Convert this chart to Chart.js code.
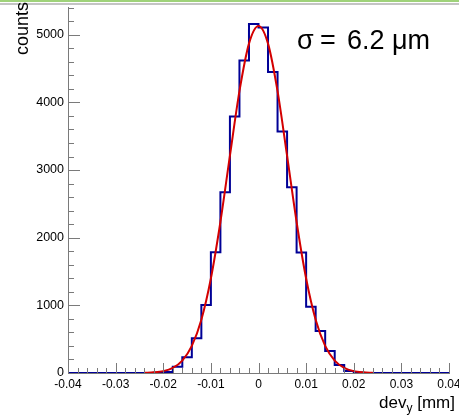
<!DOCTYPE html>
<html><head><meta charset="utf-8">
<script src="https://cdn.jsdelivr.net/npm/chart.js@4.4.0/dist/chart.umd.min.js"></script>
<style>html,body{margin:0;padding:0;background:#fff;overflow:hidden}#wrap{width:459px;height:417px;position:relative}</style>
</head><body><div id="wrap"><canvas id="c" width="459" height="417"></canvas></div>
<script>
// ---- data ----
const binEdges = [-0.040,-0.038,-0.036,-0.034,-0.032,-0.030,-0.028,-0.026,-0.024,-0.022,
  -0.020,-0.018,-0.016,-0.014,-0.012,-0.010,-0.008,-0.006,-0.004,-0.002,
  0.000,0.002,0.004,0.006,0.008,0.010,0.012,0.014,0.016,0.018,
  0.020,0.022,0.024,0.026,0.028,0.030,0.032,0.034,0.036,0.038,0.040];
const counts = [0,0,0,0,0,0,0,0,0,2,
  15,93,232,513,1006,1785,2673,3790,4620,5158,
  5108,4448,3570,2747,1780,981,621,325,118,30,
  6,0,0,0,0,0,0,0,0,0];
const fitX = [-0.024,-0.022,-0.020,-0.018,-0.016,-0.014,-0.012,-0.010,-0.008,-0.006,-0.004,-0.002,
  0.000,0.002,0.004,0.006,0.008,0.010,0.012,0.014,0.016,0.018,0.020,0.022,0.024];
const fitY = [3,10,28,76,184,401,788,1397,2232,3212,4166,4869,
  5130,4869,4166,3212,2232,1397,788,401,184,76,28,10,3];
const xTickVals = [-0.04,-0.03,-0.02,-0.01,0,0.01,0.02,0.03,0.04];
const xTickLabels = ['-0.04','-0.03','-0.02','-0.01','0','0.01','0.02','0.03','0.04'];
const yTickVals = [0,1000,2000,3000,4000,5000];
const yTickLabels = ['0','1000','2000','3000','4000','5000'];
const sigmaText = '6.2 \u03bcm';

// horizontal segment at counts[i] from binEdges[i] to binEdges[i+1]
const histPts = counts.map((v,i)=>({x:binEdges[i], y:v}));
histPts.push({x:binEdges[binEdges.length-1], y:counts[counts.length-1]});
const fitPts = fitX.map((x,i)=>({x:x, y:fitY[i]}));

const FONT = "'Liberation Sans', Arial, Helvetica, sans-serif";
const AXC = '#7a7a7a';

const decor = {
  id:'decor',
  beforeDraw(chart){
    const ctx = chart.ctx;
    ctx.save();
    ctx.fillStyle = '#9fd27a'; ctx.fillRect(0,0,459,2);
    ctx.fillStyle = '#c4c4c4'; ctx.fillRect(0,3,459,2);
    ctx.restore();
  },
  afterDraw(chart){
    const ctx = chart.ctx, xs = chart.scales.x, ys = chart.scales.y, a = chart.chartArea;
    ctx.save();
    ctx.strokeStyle = AXC; ctx.lineWidth = 1;
    ctx.beginPath();
    for (let k=0;k<=27;k++){ const v=k*200; if (v>ys.max) break;
      const y=Math.round(ys.getPixelForValue(v))+0.5; const L=(k%5===0)?12:6;
      ctx.moveTo(a.left, y); ctx.lineTo(a.left+L, y); }
    for (let k=-20;k<=20;k++){ const v=k*0.002;
      const x=Math.round(xs.getPixelForValue(v))+0.5; const L=(k%5===0)?10:5;
      ctx.moveTo(x, a.bottom); ctx.lineTo(x, a.bottom-L); }
    ctx.stroke();
    // axis titles
    ctx.fillStyle = '#000';
    ctx.save();
    ctx.translate(23, 2); ctx.rotate(-Math.PI/2);
    ctx.font = '18px '+FONT; ctx.textAlign='right'; ctx.textBaseline='middle';
    ctx.fillText('counts', 0, 0);
    ctx.restore();
    ctx.textBaseline='alphabetic'; ctx.textAlign='left';
    ctx.font = '17px '+FONT;
    const w1 = ctx.measureText('dev').width, w3 = ctx.measureText(' [mm]').width;
    ctx.font = '12px '+FONT; const w2 = ctx.measureText('y').width;
    let x0 = 455 - (w1+w2+w3), base = 408;
    ctx.font = '17px '+FONT; ctx.fillText('dev', x0, base);
    ctx.font = '12px '+FONT; ctx.fillText('y', x0+w1, base+4);
    ctx.font = '17px '+FONT; ctx.fillText(' [mm]', x0+w1+w2, base);
    // sigma label
    ctx.font = '27px '+FONT;
    ctx.fillText('\u03c3', 297, 49);
    ctx.fillText('=', 320, 49);
    ctx.fillText(sigmaText, 347, 49);
    ctx.restore();
  }
};

new Chart(document.getElementById('c'), {
  type:'line',
  data:{datasets:[
    {data:histPts, stepped:'before', borderColor:'#000096', borderWidth:2, pointRadius:0, fill:false, order:2},
    {data:fitPts, borderColor:'#d40000', borderWidth:2, pointRadius:0, fill:false, tension:0.4, cubicInterpolationMode:'monotone', order:1}
  ]},
  options:{
    responsive:false, animation:false, devicePixelRatio:1,
    layout:{padding:{top:7,right:10,left:0,bottom:0}},
    plugins:{legend:{display:false}, tooltip:{enabled:false}},
    scales:{
      x:{type:'linear', min:-0.04, max:0.04,
        afterBuildTicks(s){ s.ticks = xTickVals.map(v=>({value:v})); },
        ticks:{autoSkip:false, maxRotation:0, padding:4, color:'#000', font:{family:FONT,size:12},
          callback:(v,i)=>xTickLabels[i]},
        grid:{display:false, drawTicks:false},
        border:{display:true, color:AXC, width:1},
        afterFit(s){ s.height=44; s.paddingLeft=0; s.paddingRight=0; }
      },
      y:{type:'linear', min:0, max:5410,
        afterBuildTicks(s){ s.ticks = yTickVals.map(v=>({value:v})); },
        ticks:{autoSkip:false, padding:4, color:'#000', font:{family:FONT,size:12.5},
          callback:(v,i)=>yTickLabels[i]},
        grid:{display:false, drawTicks:false},
        border:{display:true, color:AXC, width:1},
        afterFit(s){ s.width=68; s.paddingTop=0; s.paddingBottom=0; }
      }
    }
  },
  plugins:[decor]
});
</script></body></html>
